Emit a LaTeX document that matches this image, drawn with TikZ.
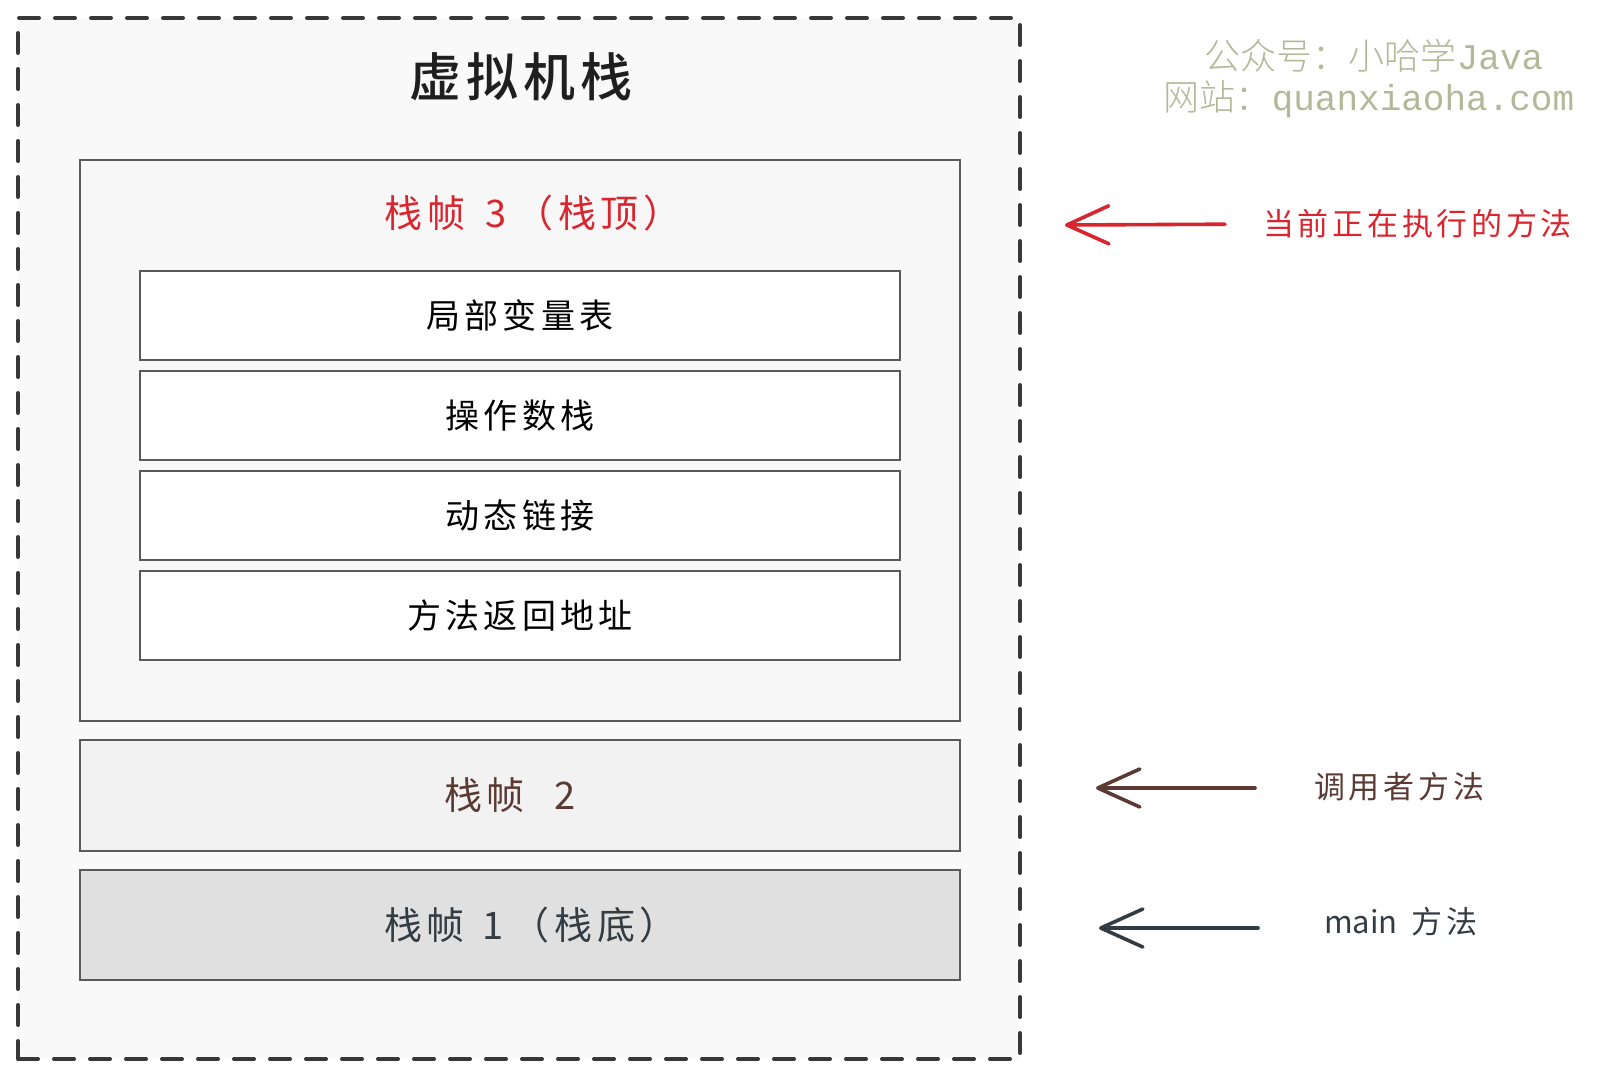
\documentclass[tikz,border=0pt]{standalone}
\usepackage{fontspec}
\setmainfont[LetterSpace=12]{Noto Sans CJK SC}
\newfontfamily\titlefont[LetterSpace=10]{Noto Sans CJK SC Medium}
\newfontfamily\plainlatin{Noto Sans CJK SC}
\newfontfamily\wmcjk{Noto Sans CJK SC Light}
\newfontfamily\wmlatin{Liberation Mono}
\usetikzlibrary{positioning,arrows.meta}

\definecolor{inkred}{HTML}{D9262E}
\definecolor{inkbrown}{HTML}{5A3A33}
\definecolor{inkslate}{HTML}{333C43}
\definecolor{boxline}{HTML}{5A5A5A}
\definecolor{wmgray}{HTML}{B3B898}

\tikzset{
  frame/.style={draw=boxline, line width=2pt, minimum width=880pt, inner sep=0pt, outer sep=0pt},
  slot/.style={draw=boxline, line width=1.6pt, fill=white, minimum width=760pt, minimum height=89pt,
    inner sep=0pt, outer sep=0pt, font=\fontsize{34}{40}\selectfont},
  note/.style={anchor=west, inner sep=0pt, font=\fontsize{31}{36}\selectfont},
  pointer/.style={line width=3.6pt, line cap=round,
    -{Straight Barb[length=42pt, width=38pt, line width=3.6pt, round]}}
}

\begin{document}
\begin{tikzpicture}[x=1pt, y=-1pt]
 \useasboundingbox (0,0) rectangle (1603,1080);

 \node[draw=black!78, fill=black!2.5, line width=4pt, line cap=round, dash pattern=on 20pt off 16pt,
   minimum width=1002pt, minimum height=1041pt] (vmstack) at (519,538.5) {};
 \node[font=\titlefont\fontsize{52}{58}\selectfont, text=black!88] (title) at (521,77) {虚拟机栈};

 \node[frame, fill=black!3, minimum height=561pt] (frameTop) at (520,440.5) {};
 \node[font=\fontsize{38}{44}\selectfont, text=inkred] (topname) at (533,213)
   {栈帧\hspace{20pt}3\hspace{9pt}（栈顶）};

 \node[slot] (locals) at (520,315.5) {局部变量表};
 \node[slot, below=11pt of locals] (opstack) {操作数栈};
 \node[slot, below=11pt of opstack] (dynlink) {动态链接};
 \node[slot, below=11pt of dynlink] (retaddr) {方法返回地址};

 \node[frame, fill=black!5, minimum height=111pt, text=inkbrown, font=\fontsize{38}{44}\selectfont]
   (frameMid) at (520,795.5) {栈帧\hspace{30pt}2\hspace{20pt}\mbox{}};
 \node[frame, fill=black!12, minimum height=110pt, text=inkslate, font=\fontsize{38}{44}\selectfont]
   (frameBot) at (520,925) {\hspace{22pt}栈帧\hspace{18pt}1\hspace{8pt}（栈底）};

 \node[note, text=inkred] (lblTop) at (1263,224) {当前正在执行的方法};
 \node[note, text=inkbrown] (lblMid) at (1314,787) {调用者方法};
 \node[note, text=inkslate] (lblBot) at (1324,922) {{\plainlatin main}\hspace{14pt}方法};

 \coordinate (tipTop) at (1065,225);
 \coordinate (tipMid) at (1096,788);
 \coordinate (tipBot) at (1099,928);
 \draw[pointer, draw=inkred, shorten <=38pt] (lblTop.west) -- (tipTop);
 \draw[pointer, draw=inkbrown, shorten <=59pt] (lblMid.west |- tipMid) -- (tipMid);
 \draw[pointer, draw=inkslate, shorten <=66pt] (lblBot.west |- tipBot) -- (tipBot);

 % watermark
 \node[text=wmgray, font=\fontsize{36}{42}\selectfont, inner sep=0pt] (wmOne) at (1374,56)
   {{\wmcjk 公众号：小哈学}{\wmlatin Java}};
 \node[text=wmgray, font=\fontsize{36}{42}\selectfont, inner sep=0pt] (wmTwo) at (1369,99)
   {{\wmcjk 网站：}{\wmlatin quanxiaoha.com}};
\end{tikzpicture}
\end{document}
